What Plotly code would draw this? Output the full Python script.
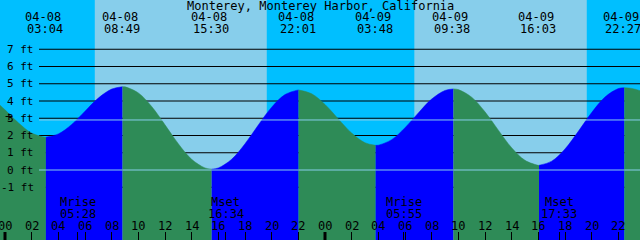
import plotly.graph_objects as go

TITLE = "Monterey, Monterey Harbor, California"

# tide heights (ft), hours from 04-08 00:00
sample_hours = [-0.375] + list(range(0, 48)) + [47.625]
sample_ft = [3.76,
             3.49, 2.74, 2.14, 1.90, 2.09, 2.64, 3.41, 4.17, 4.69, 4.82,
             4.47, 3.68, 2.62, 1.52, 0.62, 0.12, 0.12, 0.62, 1.52, 2.61,
             3.64, 4.37, 4.64, 4.42, 3.80, 2.96, 2.14, 1.58, 1.44, 1.76,
             2.45, 3.31, 4.11, 4.61, 4.66, 4.22, 3.37, 2.31, 1.29, 0.56,
             0.27, 0.51, 1.22, 2.24, 3.33, 4.23, 4.72, 4.73,
             4.60]

# high / low tides
extreme_dates = ["04-08", "04-08", "04-08", "04-08", "04-09", "04-09", "04-09", "04-09"]
extreme_times = ["03:04", "08:49", "15:30", "22:01", "03:48", "09:38", "16:03", "22:27"]
extreme_ft = [1.90, 4.83, 0.05, 4.64, 1.43, 4.70, 0.27, 4.77]

# moon
moon_events = ["Mrise", "Mset", "Mrise", "Mset"]
moon_dates = ["04-08", "04-08", "04-09", "04-09"]
moon_times = ["05:28", "16:34", "05:55", "17:33"]

# sun
sun_dates = ["04-08", "04-09"]
sunrise_times = ["06:44", "06:42"]
sunset_times = ["19:38", "19:38"]

ft_ticks = [-1, 0, 1, 2, 3, 4, 5, 6, 7]
hour_ticks = list(range(0, 49, 2))
mean_level_ft = 2.9

x_range = [-0.375, 47.625]
y_range = [-4.058, 9.855]

NIGHT = "#00BFFF"
DAY = "#87CEEB"
FLOOD = "#0000FF"
EBB = "#2E8B57"
LIGHT = "#87CEEB"
FONT = dict(family="DejaVu Sans Mono", size=12, color="black")
YFONT = dict(family="DejaVu Sans Mono", size=11, color="black")
W, H = 640, 240


def to_hours(date, hm):
    day = int(date.split("-")[1]) - 8
    hh, mm = hm.split(":")
    return day * 24 + int(hh) + int(mm) / 60.0


extreme_hours = [to_hours(d, t) for d, t in zip(extreme_dates, extreme_times)]
moon_hours = [to_hours(d, t) for d, t in zip(moon_dates, moon_times)]

pts = sorted(zip(sample_hours + extreme_hours, sample_ft + extreme_ft))
bounds = [x_range[0]] + extreme_hours + [x_range[1]]

fig = go.Figure()
for a, b in zip(bounds[:-1], bounds[1:]):
    seg = [(t, h) for t, h in pts if a - 1e-9 <= t <= b + 1e-9]
    ts = [p[0] for p in seg]
    hs = [p[1] for p in seg]
    color = FLOOD if hs[-1] > hs[0] else EBB
    fig.add_trace(go.Scatter(x=ts, y=[y_range[0]] * len(ts), mode="lines",
                             line=dict(width=0), hoverinfo="skip", showlegend=False))
    fig.add_trace(go.Scatter(x=ts, y=hs, mode="lines", fill="tonexty", fillcolor=color,
                             line=dict(width=0.5, color=color, shape="spline"),
                             hoverinfo="skip", showlegend=False))

shapes = []
for d, sr, ss in zip(sun_dates, sunrise_times, sunset_times):
    shapes.append(dict(type="rect", xref="x", yref="paper", x0=to_hours(d, sr), x1=to_hours(d, ss),
                       y0=0, y1=1, fillcolor=DAY, line=dict(width=0), layer="below"))
for v in ft_ticks:
    shapes.append(dict(type="line", xref="paper", yref="y", x0=39 / W, x1=1, y0=v, y1=v,
                       line=dict(color="black", width=1), layer="below"))
for v in [0, mean_level_ft]:
    shapes.append(dict(type="line", xref="paper", yref="y", x0=39 / W, x1=1, y0=v, y1=v,
                       line=dict(color=LIGHT, width=1), layer="above"))
for h in hour_ticks:
    if h % 24 == 0:
        shapes.append(dict(type="line", xref="x", yref="paper", x0=h, x1=h, y0=0, y1=8 / H,
                           line=dict(color="black", width=3), layer="above"))

ann = []
ann.append(dict(text=TITLE, xref="paper", yref="paper", x=0.5, y=1 - 6 / H,
                xanchor="center", yanchor="middle", showarrow=False, font=FONT))
for d, t, hr in zip(extreme_dates, extreme_times, extreme_hours):
    ann.append(dict(text=d, xref="x", yref="paper", x=hr, y=1 - 17.5 / H, xshift=-3,
                    xanchor="center", yanchor="middle", showarrow=False, font=FONT))
    ann.append(dict(text=t, xref="x", yref="paper", x=hr, y=1 - 29 / H, xshift=-1,
                    xanchor="center", yanchor="middle", showarrow=False, font=FONT))
for ev, t, hr in zip(moon_events, moon_times, moon_hours):
    ann.append(dict(text=ev, xref="x", yref="paper", x=hr, y=1 - 202 / H,
                    xanchor="center", yanchor="middle", showarrow=False, font=FONT))
    ann.append(dict(text=t, xref="x", yref="paper", x=hr, y=1 - 213.5 / H,
                    xanchor="center", yanchor="middle", showarrow=False, font=FONT))
for h in hour_ticks:
    ann.append(dict(text="%02d" % (h % 24), xref="x", yref="paper", x=h, y=1 - 226 / H,
                    xanchor="center", yanchor="middle", showarrow=False, font=FONT))
for v in ft_ticks:
    ann.append(dict(text="%d ft" % v, xref="paper", yref="y", x=35.5 / W, y=v,
                    xanchor="right", yanchor="middle", showarrow=False, font=YFONT))
ann.append(dict(text="+", xref="paper", yref="y", x=8.5 / W, y=mean_level_ft + 0.2,
                xanchor="center", yanchor="middle", showarrow=False,
                font=dict(family="DejaVu Sans Mono", size=13, color="black")))

fig.update_layout(
    width=W, height=H, margin=dict(l=0, r=0, t=0, b=0),
    paper_bgcolor=NIGHT, plot_bgcolor=NIGHT,
    shapes=shapes, annotations=ann, showlegend=False,
    xaxis=dict(range=x_range, showgrid=False, zeroline=False, showticklabels=False,
               ticks="inside", ticklen=8, tickwidth=1, tickcolor="black",
               tickmode="array", tickvals=hour_ticks + moon_hours, fixedrange=True),
    yaxis=dict(range=y_range, showgrid=False, zeroline=False, showticklabels=False,
               fixedrange=True),
)

fig.write_html(
    "out.html",
    config={"displayModeBar": False},
    post_script="document.body.style.margin='0';document.body.style.padding='0';"
                "document.body.style.overflow='hidden';",
)
